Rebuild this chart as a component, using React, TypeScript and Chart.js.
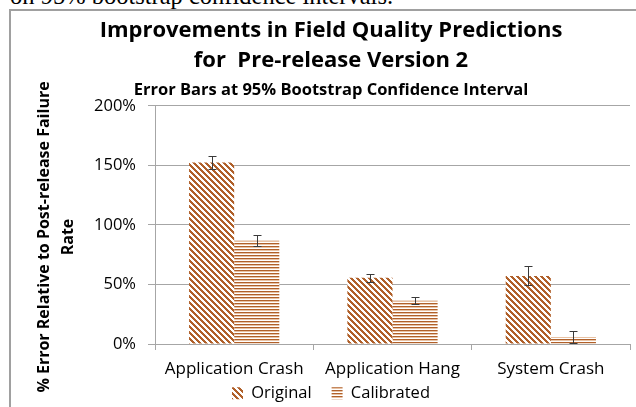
import React, { useEffect, useRef } from "react";
import { Chart, registerables } from "chart.js";

Chart.register(...registerables);

const categories = ["Application Crash", "Application Hang", "System Crash"];
const originalValues = [152.5, 55.6, 57.2];
const originalErrors = [5.5, 3.2, 8.0];
const calibratedValues = [86.7, 36.4, 5.8];
const calibratedErrors = [4.8, 2.9, 4.9];
const yTickValues = [0, 50, 100, 150, 200];
const titleLines = ["Improvements in Field Quality Predictions", "for  Pre-release Version 2"];
const subtitleText = "Error Bars at 95% Bootstrap Confidence Interval";
const yTitleLines = ["% Error Relative to Post-release Failure", "Rate"];

const BROWN = "#b0602a";
const FONT = "'Open Sans', 'Noto Sans', sans-serif";

function makeDiagonalPattern(): CanvasPattern | string {
  const n = 6;
  const c = document.createElement("canvas");
  c.width = n;
  c.height = n;
  const g = c.getContext("2d");
  if (!g) return BROWN;
  g.fillStyle = "#ffffff";
  g.fillRect(0, 0, n, n);
  g.fillStyle = BROWN;
  for (let y = 0; y < n; y++) {
    for (let x = 0; x < n; x++) {
      const d = (((x - y) % n) + n) % n;
      if (d < 3) g.fillRect(x, y, 1, 1);
    }
  }
  return g.createPattern(c, "repeat") || BROWN;
}

function makeHorizontalPattern(): CanvasPattern | string {
  const c = document.createElement("canvas");
  c.width = 3;
  c.height = 3;
  const g = c.getContext("2d");
  if (!g) return BROWN;
  g.fillStyle = BROWN;
  g.fillRect(0, 0, 3, 1);
  g.fillStyle = "#e8c2a4";
  g.fillRect(0, 1, 3, 1);
  g.fillStyle = "#ffffff";
  g.fillRect(0, 2, 3, 1);
  return g.createPattern(c, "repeat") || BROWN;
}

const errorBarPlugin = {
  id: "errorBars",
  afterDatasetsDraw(chart: any) {
    const ctx = chart.ctx;
    const y = chart.scales.y;
    ctx.save();
    ctx.strokeStyle = "#3a3a3a";
    ctx.lineWidth = 1;
    chart.data.datasets.forEach((ds: any, di: number) => {
      const meta = chart.getDatasetMeta(di);
      meta.data.forEach((bar: any, i: number) => {
        const v = ds.data[i];
        const e = ds.errors[i];
        const top = Math.round(y.getPixelForValue(v + e)) + 0.5;
        const bot = Math.round(y.getPixelForValue(Math.max(0, v - e))) + 0.5;
        const x = Math.round(bar.x) + 0.5;
        const cap = 4;
        ctx.beginPath();
        ctx.moveTo(x, top);
        ctx.lineTo(x, bot);
        ctx.moveTo(x - cap, top);
        ctx.lineTo(x + cap, top);
        ctx.moveTo(x - cap, bot);
        ctx.lineTo(x + cap, bot);
        ctx.stroke();
      });
    });
    ctx.restore();
  },
};

const yTitlePlugin = {
  id: "yAxisTitle",
  afterDraw(chart: any) {
    const ctx = chart.ctx;
    const xs = [44, 68];
    const cy = 237;
    ctx.save();
    ctx.fillStyle = "#000000";
    ctx.font = `bold 16px ${FONT}`;
    ctx.textAlign = "center";
    ctx.textBaseline = "middle";
    yTitleLines.forEach((line, i) => {
      ctx.save();
      ctx.translate(xs[i], cy);
      ctx.rotate(-Math.PI / 2);
      ctx.fillText(line, 0, 0);
      ctx.restore();
    });
    ctx.restore();
  },
};

const legendPlacePlugin = {
  id: "legendPlace",
  afterLayout(chart: any) {
    const lg = chart.legend;
    if (lg) {
      lg.top = chart.chartArea.bottom + 21;
      lg.bottom = chart.height;
    }
  },
};

export default function App() {
  const ref = useRef<HTMLCanvasElement | null>(null);

  useEffect(() => {
    if (!ref.current) return;
    const chart = new Chart(ref.current, {
      type: "bar",
      data: {
        labels: categories,
        datasets: [
          {
            label: "Original",
            data: originalValues,
            errors: originalErrors,
            backgroundColor: makeDiagonalPattern(),
            borderWidth: 0,
          } as any,
          {
            label: "Calibrated",
            data: calibratedValues,
            errors: calibratedErrors,
            backgroundColor: makeHorizontalPattern(),
            borderWidth: 0,
          } as any,
        ],
      },
      options: {
        animation: false,
        responsive: false,
        maintainAspectRatio: false,
        layout: { padding: { left: 32, right: 6, top: 0, bottom: 0 } },
        datasets: { bar: { categoryPercentage: 0.57, barPercentage: 1 } },
        plugins: {
          title: {
            display: true,
            text: titleLines,
            color: "#000000",
            font: { family: FONT, size: 22, weight: "bold", lineHeight: 1.364 },
            padding: { top: 16, bottom: 4 },
          },
          subtitle: {
            display: true,
            text: subtitleText,
            color: "#000000",
            font: { family: FONT, size: 16.5, weight: "bold", lineHeight: 1.2 },
            padding: { top: 0, bottom: 6 },
          },
          legend: {
            display: true,
            position: "bottom",
            maxHeight: 18,
            labels: {
              boxWidth: 11,
              boxHeight: 12,
              color: "#000000",
              font: { family: FONT, size: 16.5 },
              padding: 20,
            },
          },
          tooltip: { enabled: false },
        },
        scales: {
          x: {
            afterFit(scale: any) {
              scale.height = 45;
            },
            grid: {
              display: true,
              offset: true,
              drawOnChartArea: false,
              drawTicks: true,
              tickLength: 6,
              color: "#a6a6a6",
            },
            border: { display: true, color: "#a6a6a6" },
            ticks: {
              color: "#000000",
              font: { family: FONT, size: 17 },
              padding: 9,
              maxRotation: 0,
            },
          },
          y: {
            min: 0,
            max: 200,
            afterBuildTicks(scale: any) {
              scale.ticks = yTickValues.map((v) => ({ value: v }));
            },
            afterFit(scale: any) {
              scale.width = 123;
            },
            grid: {
              color: "#a6a6a6",
              drawTicks: true,
              tickLength: 7,
            },
            border: { display: true, color: "#a6a6a6" },
            ticks: {
              color: "#000000",
              font: { family: FONT, size: 16.5 },
              padding: 12,
              callback: (v: any) => `${v}%`,
            },
            title: { display: false },
          },
        },
      },
      plugins: [errorBarPlugin, yTitlePlugin, legendPlacePlugin],
    } as any);
    return () => chart.destroy();
  }, []);

  return (
    <div
      style={{
        position: "fixed",
        left: 0,
        top: 0,
        width: 636,
        height: 407,
        overflow: "hidden",
        background: "#ffffff",
      }}
    >
      <div
        style={{
          position: "absolute",
          left: 10,
          top: -16,
          whiteSpace: "nowrap",
          font: "24.5px 'Liberation Serif', 'Times New Roman', serif",
          lineHeight: "24px",
          color: "#000",
        }}
      >
        on 95% bootstrap confidence intervals.
      </div>
      <div
        style={{
          position: "absolute",
          left: 9,
          top: 9,
          width: 700,
          height: 500,
          border: "2px solid #a0a0a0",
          boxSizing: "border-box",
        }}
      />
      <canvas
        ref={ref}
        width={636}
        height={407}
        style={{ position: "absolute", left: 0, top: 0, width: 636, height: 407 }}
      />
    </div>
  );
}
